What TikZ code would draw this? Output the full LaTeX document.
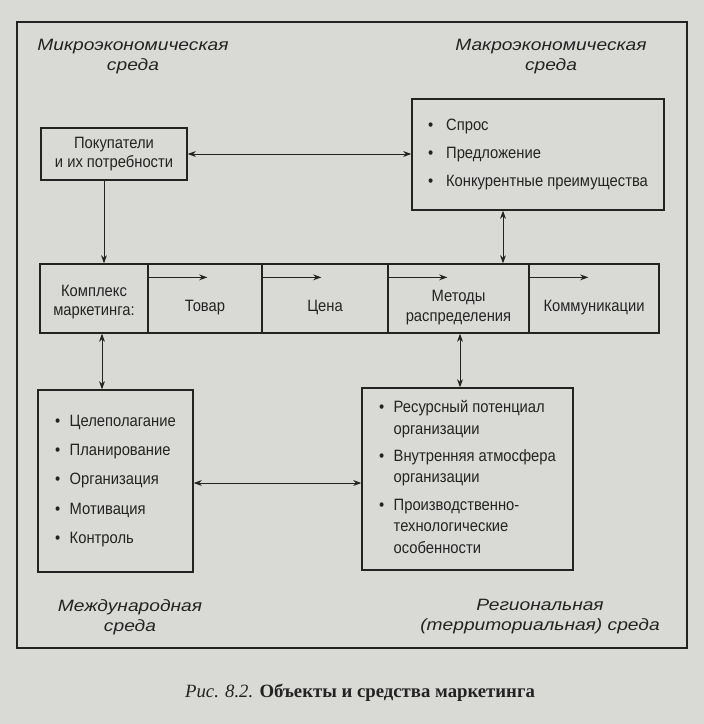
\documentclass[tikz,border=0pt]{standalone}
\usepackage{fontspec}
\setmainfont{Liberation Serif}
\newfontfamily\boxfont[FakeStretch=0.9]{Liberation Sans}
\newfontfamily\envfont[FakeStretch=1.17]{Liberation Sans}
\definecolor{paper}{RGB}{217,217,214}
\definecolor{ink}{RGB}{35,35,35}
\usetikzlibrary{arrows.meta}
% text of a cell, set lower than the middle of the cell
\newcommand{\lowtext}[2]{\raisebox{-#1}[\height][\depth]{\begin{tabular}{@{}c@{}}#2\end{tabular}}}

\begin{document}
\begin{tikzpicture}[x=0.03cm, y=-0.03cm,
  box/.style={draw=ink, line width=1.1pt, inner sep=0pt, text=ink, align=center,
    font=\boxfont\fontsize{14}{17}\selectfont},
  env/.style={text=ink, align=center, font=\envfont\itshape\fontsize{14}{17}\selectfont},
  feed/.style={draw=ink, line width=0.8pt, -{Stealth[length=7pt, width=5pt]}},
  link/.style={draw=ink, line width=0.8pt, {Stealth[length=7pt, width=5pt]}-{Stealth[length=7pt, width=5pt]}},
]
  \fill[paper] (0,0) rectangle (704,724);
  \draw[ink, line width=1.1pt] (17,22) rectangle (687,648);

  % the four surroundings
  \node[env] (micro) at (133,57) {Микроэкономическая\\среда};
  \node[env] (macroenv) at (551,57) {Макроэкономическая\\среда};
  \node[env] (intlenv) at (130,617) {Международная\\среда};
  \node[env] (regenv) at (540,617) {Региональная\\(территориальная) среда};

  \node[box, minimum width=4.38cm, minimum height=1.56cm] (buyers) at (114,154)
    {Покупатели\\[-0.5pt]и их потребности};
  \node[box, minimum width=7.56cm, minimum height=3.33cm] (macro) at (538,154.5)
    {\begin{tabular}{@{}c@{\hspace{11pt}}l@{}}
      \textbullet & Спрос\\[7pt]
      \textbullet & Предложение\\[7pt]
      \textbullet & Конкурентные преимущества
    \end{tabular}};

  % marketing mix row
  \node[box, minimum width=3.24cm, minimum height=2.07cm] (mix) at (94,298.5)
    {\lowtext{3pt}{Комплекс\\маркетинга:}};
  \node[box, minimum width=3.42cm, minimum height=2.07cm] (product) at (205,298.5)
    {\lowtext{8pt}{Товар}};
  \node[box, minimum width=3.78cm, minimum height=2.07cm] (price) at (325,298.5)
    {\lowtext{8pt}{Цена}};
  \node[box, minimum width=4.23cm, minimum height=2.07cm] (place) at (458.5,298.5)
    {\lowtext{8pt}{Методы\\распределения}};
  \node[box, minimum width=3.9cm, minimum height=2.07cm] (promo) at (594,298.5)
    {\lowtext{8pt}{Коммуникации}};
  \foreach \c in {product,price,place,promo}
    \draw[feed] ([shift={(0,14)}]\c.north west) -- ++(60,0);

  \node[box, minimum width=4.65cm, minimum height=5.46cm] (intl) at (115.5,481)
    {\begin{tabular}{@{}c@{\hspace{8pt}}l@{}}
      \textbullet & Целеполагание\\[8pt]
      \textbullet & Планирование\\[8pt]
      \textbullet & Организация\\[8pt]
      \textbullet & Мотивация\\[8pt]
      \textbullet & Контроль
    \end{tabular}};
  \node[box, minimum width=6.33cm, minimum height=5.46cm] (region) at (467.5,479)
    {\begin{tabular}{@{}c@{\hspace{8pt}}l@{}}
      \textbullet & Ресурсный потенциал\\[1.3pt]
                  & организации\\[6.4pt]
      \textbullet & Внутренняя атмосфера\\[1.3pt]
                  & организации\\[6.4pt]
      \textbullet & Производственно-\\[1.3pt]
                  & технологические\\[1.3pt]
                  & особенности
    \end{tabular}};

  % connections
  \draw[link] (buyers.east) -- (buyers.east -| macro.west);
  \draw[feed] ([shift={(-10,0)}]buyers.south) -- ([shift={(-10,0)}]buyers.south |- mix.north);
  \draw[link] ([shift={(-35,0)}]macro.south) -- ([shift={(-35,0)}]macro.south |- place.north);
  \draw[link] ([shift={(8,0)}]mix.south) -- ([shift={(8,0)}]mix.south |- intl.north);
  \draw[link] ([shift={(1.5,0)}]place.south) -- ([shift={(1.5,0)}]place.south |- region.north);
  \draw[link] ([shift={(0,2)}]intl.east) -- ([shift={(0,2)}]intl.east -| region.west);

  \node[text=ink, font=\fontsize{16}{19}\selectfont] (caption) at (360,693)
    {\textit{Рис. 8.2.} \textbf{Объекты и средства маркетинга}};
\end{tikzpicture}
\end{document}
